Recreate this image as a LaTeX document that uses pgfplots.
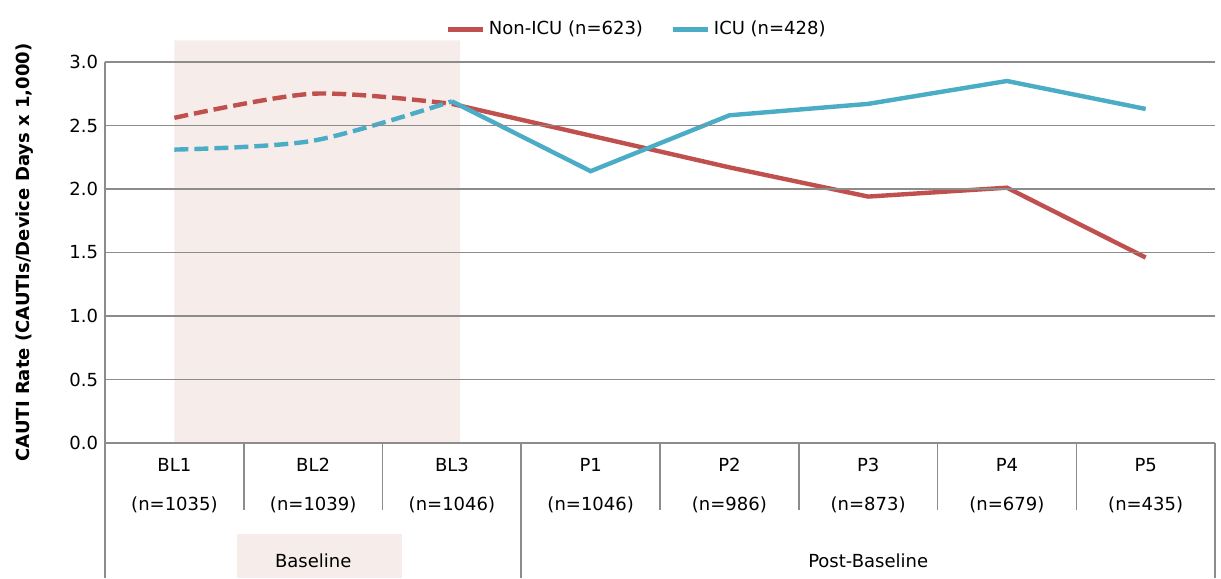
\documentclass[border=0pt]{standalone}
\usepackage{pgfplots}
\pgfplotsset{compat=1.18}
\usepackage{fontspec}
\setmainfont{DejaVu Sans}
\definecolor{nred}{RGB}{192,80,77}
\definecolor{icub}{RGB}{75,172,198}
\definecolor{shadecol}{RGB}{246,236,234}
\definecolor{gl}{RGB}{140,140,140}
\begin{document}
\begin{tikzpicture}
\begin{axis}[
  x=69.375pt, y=63.5pt,
  xmin=0, xmax=8, ymin=0, ymax=3,
  clip=false,
  axis on top,
  xtick=\empty,
  ytick={0,0.5,...,3},
  yticklabel style={/pgf/number format/.cd,fixed,fixed zerofill,precision=1},
  /pgf/number format/assume math mode=true,
  ymajorgrids, grid style={gl, line width=0.8pt},
  axis x line=none,
  axis y line*=left,
  y axis line style={gl, line width=0.8pt, -},
  major tick length=0pt,
  ticklabel style={font=\fontsize{9}{11}\selectfont},
  ylabel={\bfseries CAUTI Rate (CAUTIs/Device Days x 1,000)},
  ylabel style={font=\fontsize{9}{11}\selectfont},
  ylabel shift=11pt,
  legend style={at={(0.48,1.0)}, anchor=south, yshift=8pt, draw=none, fill=none,
    legend columns=2, font=\fontsize{9}{11}\selectfont,
    /tikz/every even column/.append style={column sep=12pt}},
  legend image post style={line width=2.4pt},
  legend cell align=left,
]
\addplot[fill=shadecol, draw=none, forget plot] coordinates {(0.5,0)(0.5,3.17)(2.56,3.17)(2.56,0)} \closedcycle;
\addplot[nred, line width=2.2pt] coordinates {(2.5,2.67)(3.5,2.42)(4.5,2.17)(5.5,1.94)(6.5,2.01)(7.5,1.46)};
\addlegendentry{Non-ICU (n=623)}
\addplot[icub, line width=2.2pt] coordinates {(2.5,2.69)(3.5,2.14)(4.5,2.58)(5.5,2.67)(6.5,2.85)(7.5,2.63)};
\addlegendentry{ICU (n=428)}
\addplot[nred, line width=2.2pt, dash pattern=on 7pt off 3pt, smooth, forget plot] coordinates {(0.5,2.56)(1.5,2.75)(2.5,2.67)};
\addplot[icub, line width=2.2pt, dash pattern=on 7pt off 3pt, smooth, forget plot] coordinates {(0.5,2.31)(1.5,2.38)(2.5,2.69)};
\fill[shadecol] (axis cs:0.95,-0.72) rectangle (axis cs:2.14,-1.063);
\pgfplotsinvokeforeach{0,...,8}{\draw[gl, line width=0.8pt] (axis cs:#1,0) -- (axis cs:#1,-0.53);}
\pgfplotsinvokeforeach{0,3,8}{\draw[gl, line width=0.8pt] (axis cs:#1,-0.53) -- (axis cs:#1,-1.063);}
\tikzset{cl/.style={font=\fontsize{9}{19.5}\selectfont, align=center}}
\node[cl] at (axis cs:0.5,-0.335) {BL1\\(n=1035)};
\node[cl] at (axis cs:1.5,-0.335) {BL2\\(n=1039)};
\node[cl] at (axis cs:2.5,-0.335) {BL3\\(n=1046)};
\node[cl] at (axis cs:3.5,-0.335) {P1\\(n=1046)};
\node[cl] at (axis cs:4.5,-0.335) {P2\\(n=986)};
\node[cl] at (axis cs:5.5,-0.335) {P3\\(n=873)};
\node[cl] at (axis cs:6.5,-0.335) {P4\\(n=679)};
\node[cl] at (axis cs:7.5,-0.335) {P5\\(n=435)};
\node[font=\fontsize{9}{11}\selectfont] at (axis cs:1.5,-0.93) {Baseline};
\node[font=\fontsize{9}{11}\selectfont] at (axis cs:5.5,-0.93) {Post-Baseline};
\path (axis cs:-0.757,-1.063) rectangle (axis cs:8.043,3.488);
\end{axis}
\end{tikzpicture}
\end{document}
